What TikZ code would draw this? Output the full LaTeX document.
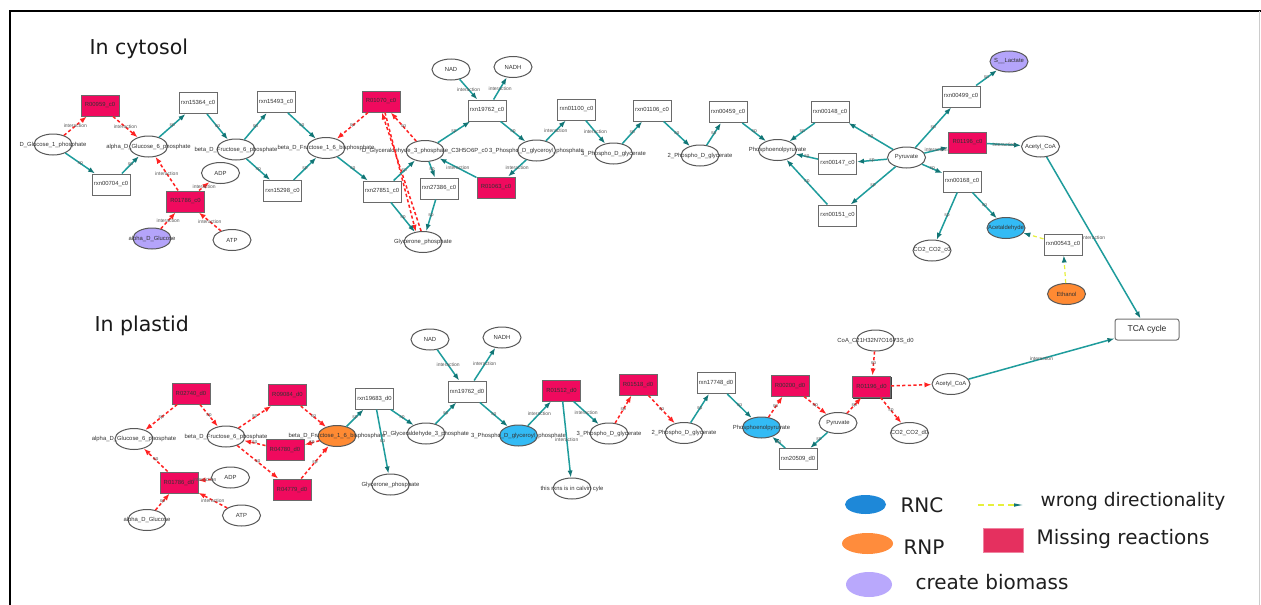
\documentclass[tikz,border=0pt]{standalone}
\usepackage{fontspec}
\setmainfont{DejaVu Sans}
\newfontfamily\lbfont{Liberation Sans}
\usetikzlibrary{arrows.meta,shapes.geometric}

\definecolor{tealline}{HTML}{1E9C9C}
\definecolor{tealhead}{HTML}{127575}
\definecolor{redline}{HTML}{FF2222}
\definecolor{yelline}{HTML}{E6F03C}
\definecolor{missfill}{HTML}{F00A5E}
\definecolor{rncfill}{HTML}{33BBF5}
\definecolor{rnpfill}{HTML}{FF8A33}
\definecolor{biofill}{HTML}{B4A4FA}
\definecolor{nodeedge}{HTML}{585858}
\definecolor{rxnedge}{HTML}{6A6A6A}
\definecolor{legrnc}{HTML}{1E88D8}
\definecolor{legrnp}{HTML}{FF8C3C}
\definecolor{legbio}{HTML}{B9A8FC}
\definecolor{legmiss}{HTML}{E5305F}

\tikzset{
  zerotext/.style={execute at begin node={\hbox to 0pt\bgroup\hss},
                   execute at end node={\hss\egroup}},
  met/.style={ellipse, draw=nodeedge, line width=1pt, fill=white,
              minimum width=38pt, minimum height=21pt, inner sep=0pt,
              font=\fontsize{5.9}{6}\selectfont\lbfont, text=black!80, zerotext},
  rxn/.style={rectangle, draw=rxnedge, line width=1pt, fill=white,
              minimum width=38pt, minimum height=21pt, inner sep=0pt,
              font=\fontsize{5.9}{6}\selectfont\lbfont, text=black!80, zerotext},
  miss/.style={rxn, fill=missfill},
  shadowed/.style={preaction={draw=black!75, line width=1pt,
                   transform canvas={xshift=1.3pt,yshift=-1.2pt}}},
  sp/.style={draw=tealline, line width=1.5pt,
             -{Latex[length=7pt,width=5.2pt,color=tealhead]}},
  rd/.style={draw=redline, line width=1.5pt, dash pattern=on 3.2pt off 2.4pt,
             -{Latex[length=7pt,width=5.2pt]}},
  yd/.style={draw=yelline, line width=1.2pt, dash pattern=on 4pt off 3pt,
             -{Latex[length=7pt,width=5.2pt,color=tealhead]}},
  el/.style={font=\fontsize{5}{5}\selectfont\lbfont, text=black!65,
             inner sep=0pt, midway},
  title/.style={font=\fontsize{20.5}{24}\selectfont, text=black!90, anchor=base west},
  legtext/.style={font=\fontsize{20}{24}\selectfont, text=black!88, anchor=base west},
}

\begin{document}
\begin{tikzpicture}[x=1pt, y=-1pt]
\useasboundingbox (0,0) rectangle (1261,605);
\fill[white] (0,0) rectangle (1261,605);

% frame
\draw[line width=2pt, black] (9.5,605) -- (9.5,10.5) -- (1261,10.5);
\draw[line width=0.8pt, black!20] (1259.6,11) -- (1259.6,605);

% titles
\node[title] (tcyt) at (86,54.5) {In cytosol};
\node[title] (tpla) at (91,331) {In plastid};

% ---------------- cytosol nodes ----------------
\node[miss] (r00959c) at (100,105.5) {R00959\_c0};
\node[met] (dg1p) at (53,144.5) {D\_Glucose\_1\_phosphate};
\node[met] (ag6pc) at (148.5,146.5) {alpha\_D\_Glucose\_6\_phosphate};
\node[rxn] (rxn15364) at (198,103) {rxn15364\_c0};
\node[met] (bf6pc) at (236,149.5) {beta\_D\_Fructose\_6\_phosphate};
\node[rxn] (rxn15493) at (276,102) {rxn15493\_c0};
\node[rxn] (rxn00704) at (111,184.5) {rxn00704\_c0};
\node[met] (adpc) at (220.5,173) {ADP};
\node[miss] (r01786c) at (185.5,201.5) {R01786\_c0};
\node[met, fill=biofill] (aglc) at (152,238.5) {alpha\_D\_Glucose};
\node[met] (atpc) at (232,240) {ATP};
\node[rxn] (rxn15298) at (282.5,191) {rxn15298\_c0};
\node[met] (bf16c) at (326,148) {beta\_D\_Fructose\_1\_6\_bisphosphate};
\node[miss] (r01070c) at (381,101.5) {R01070\_c0};
\node[rxn] (rxn27851) at (382,191.5) {rxn27851\_c0};
\node[rxn] (rxn27386) at (439,188.5) {rxn27386\_c0};
\node[met] (glyc) at (423,242) {Glycerone\_phosphate};
\node[met] (nadc) at (451,69.5) {NAD};
\node[met] (nadhc) at (513,67) {NADH};
\node[rxn] (rxn19762c) at (487,110.5) {rxn19762\_c0};
\node[miss] (r01063c) at (496,187.5) {R01063\_c0};
\node[met] (dg3pc) at (425,151) {D\_Glyceraldehyde\_3\_phosphate\_C3H5O6P\_c0};
\node[met] (pdgpc) at (536.5,150.5) {3\_Phospho\_D\_glyceroyl\_phosphate};
\node[rxn] (rxn01100) at (576.5,109.5) {rxn01100\_c0};
\node[met] (pdgc) at (613.5,153.5) {3\_Phospho\_D\_glycerate};
\node[rxn] (rxn01106) at (652,110.5) {rxn01106\_c0};
\node[met] (pdg2c) at (700,155.5) {2\_Phospho\_D\_glycerate};
\node[rxn] (rxn00459) at (728,112) {rxn00459\_c0};
\node[met] (pepc) at (777.5,150) {Phosphoenolpyruvate};
\node[rxn] (rxn00148) at (830,112) {rxn00148\_c0};
\node[rxn] (rxn00147) at (837.5,163.5) {rxn00147\_c0};
\node[rxn] (rxn00151) at (837.5,215.5) {rxn00151\_c0};
\node[met] (pyrc) at (906.5,157.5) {Pyruvate};
\node[rxn] (rxn00499) at (961,96.5) {rxn00499\_c0};
\node[miss] (r01196c) at (967.5,142.5) {R01196\_c0};
\node[rxn] (rxn00168) at (962,181.5) {rxn00168\_c0};
\node[met] (co2c) at (932,250.5) {CO2\_CO2\_c0};
\node[met, fill=biofill] (lac) at (1009,61.5) {S\_\_Lactate};
\node[met] (acoac) at (1040.5,146.5) {Acetyl\_CoA};
\node[met, fill=rncfill] (acald) at (1006,228) {Acetaldehyde};
\node[rxn] (rxn00543) at (1063,244.5) {rxn00543\_c0};
\node[met, fill=rnpfill] (etoh) at (1066.5,294) {Ethanol};
\node[rectangle, rounded corners=2.5pt, draw=black!55, line width=1pt, fill=white,
      minimum width=64pt, minimum height=21pt, inner sep=0pt,
      font=\fontsize{8.5}{9}\selectfont\lbfont, text=black!85] (tca) at (1147,329.5) {TCA cycle};

% ---------------- cytosol connectors ----------------
\draw[rd] (dg1p) -- node[el]{interaction} (r00959c);
\draw[rd] (r00959c) -- node[el]{interaction} (ag6pc);
\draw[sp] (dg1p) -- node[el]{sp} (rxn00704);
\draw[sp] (rxn00704) -- node[el]{sp} (ag6pc);
\draw[sp] (ag6pc) -- node[el]{sp} (rxn15364);
\draw[sp] (rxn15364) -- node[el]{sp} (bf6pc);
\draw[sp] (bf6pc) -- node[el]{sp} (rxn15493);
\draw[sp] (rxn15493) -- node[el]{sp} (bf16c);
\draw[sp] (bf6pc) -- node[el]{sp} (rxn15298);
\draw[sp] (rxn15298) -- node[el]{sp} (bf16c);
\draw[rd] (r01786c) -- node[el]{interaction} (ag6pc);
\draw[rd] (r01786c) -- node[el]{interaction} (adpc);
\draw[rd] (aglc) -- node[el]{interaction} (r01786c);
\draw[rd] (atpc) -- node[el]{interaction} (r01786c);
\draw[rd] (r01070c) -- node[el]{sp} (bf16c);
\draw[rd] (dg3pc) -- node[el]{sp} (r01070c);
\draw[rd] (glyc.100) -- (r01070c.-85);
\draw[rd] (r01070c.-70) -- (glyc.125);
\draw[sp] (bf16c) -- node[el]{sp} (rxn27851);
\draw[sp] (rxn27851) -- node[el]{sp} (dg3pc);
\draw[sp] (rxn27851) -- node[el]{sp} (glyc);
\draw[sp] (dg3pc) -- node[el]{sp} (rxn27386);
\draw[sp] (rxn27386) -- node[el]{sp} (glyc);
\draw[sp] (dg3pc) -- node[el]{sp} (rxn19762c);
\draw[sp] (nadc) -- node[el]{interaction} (rxn19762c);
\draw[sp] (rxn19762c) -- node[el]{interaction} (nadhc);
\draw[sp] (rxn19762c) -- node[el]{sp} (pdgpc);
\draw[sp] (r01063c) -- node[el]{interaction} (dg3pc);
\draw[sp] (pdgpc) -- node[el]{interaction} (r01063c);
\draw[sp] (pdgpc) -- node[el]{interaction} (rxn01100);
\draw[sp] (rxn01100) -- node[el]{interaction} (pdgc);
\draw[sp] (pdgc) -- node[el]{sp} (rxn01106);
\draw[sp] (rxn01106) -- node[el]{sp} (pdg2c);
\draw[sp] (pdg2c) -- node[el]{sp} (rxn00459);
\draw[sp] (rxn00459) -- node[el]{sp} (pepc);
\draw[sp] (rxn00148) -- node[el]{sp} (pepc);
\draw[sp] (pyrc) -- node[el]{sp} (rxn00148);
\draw[sp] (pyrc) -- node[el]{sp} (rxn00147);
\draw[sp] (rxn00147) -- node[el]{sp} (pepc);
\draw[sp] (pyrc) -- node[el]{sp} (rxn00151);
\draw[sp] (rxn00151) -- node[el]{sp} (pepc);
\draw[sp] (pyrc) -- node[el]{sp} (rxn00499);
\draw[sp] (rxn00499) -- node[el]{sp} (lac);
\draw[sp] (pyrc) -- node[el]{interaction} (r01196c);
\draw[sp] (pyrc) -- node[el]{sp} (rxn00168);
\draw[sp] (rxn00168) -- node[el]{sp} (co2c);
\draw[sp] (rxn00168) -- node[el]{sp} (acald);
\draw[sp] (r01196c) -- node[el]{interaction} (acoac);
\draw[yd] (rxn00543) -- (acald);
\draw[yd] (etoh) -- (rxn00543);
\draw[sp] (acoac) -- node[el]{interaction} (tca);

% ---------------- plastid nodes ----------------
\node[miss] (r02740) at (191,393.5) {R02740\_d0};
\node[miss] (r09084) at (287.5,395) {R09084\_d0};
\node[met] (ag6pd) at (134,439) {alpha\_D\_Glucose\_6\_phosphate};
\node[met] (bf6pd) at (226,436.5) {beta\_D\_Fructose\_6\_phosphate};
\node[miss] (r04780) at (285,450) {R04780\_d0};
\node[miss] (r04779) at (292,489.5) {R04779\_d0};
\node[miss] (r01786d) at (179,482.5) {R01786\_d0};
\node[met] (adpd) at (230.5,477.5) {ADP};
\node[met] (atpd) at (241.5,515.5) {ATP};
\node[met] (agld) at (147,520) {alpha\_D\_Glucose};
\node[met, fill=rnpfill] (bf16d) at (337,436) {beta\_D\_Fructose\_1\_6\_bisphosphate};
\node[met] (nadd) at (430,339.5) {NAD};
\node[met] (nadhd) at (502,337.5) {NADH};
\node[rxn] (rxn19683) at (374.5,398.5) {rxn19683\_d0};
\node[rxn] (rxn19762d) at (467,391.5) {rxn19762\_d0};
\node[met] (dg3pd) at (426,433.5) {D\_Glyceraldehyde\_3\_phosphate};
\node[met] (glyd) at (390.5,484.5) {Glycerone\_phosphate};
\node[met, fill=rncfill] (pdgpd) at (518.5,435.5) {3\_Phospho\_D\_glyceroyl\_phosphate};
\node[miss] (r01512) at (561.5,390.5) {R01512\_d0};
\node[met] (calvin) at (572,488.5) {this rxns is in calvin cyle};
\node[miss] (r01518) at (638,384.5) {R01518\_d0};
\node[met] (pdgd) at (609,433.5) {3\_Phospho\_D\_glycerate};
\node[met] (pdg2d) at (684,433) {2\_Phospho\_D\_glycerate};
\node[rxn] (rxn17748) at (716,383) {rxn17748\_d0};
\node[met, fill=rncfill] (pepd) at (761.5,427.5) {Phosphoenolpyruvate};
\node[miss] (r00200) at (790,385.5) {R00200\_d0};
\node[met] (pyrd) at (838,423) {Pyruvate};
\node[rxn] (rxn20509) at (798,459) {rxn20509\_d0};
\node[miss, shadowed] (r01196d) at (871.5,386.5) {R01196\_d0};
\node[met] (coa) at (875.5,340.5) {CoA\_C21H32N7O16P3S\_d0};
\node[met] (co2d) at (909.5,433) {CO2\_CO2\_d0};
\node[met] (acoad) at (951,384) {Acetyl\_CoA};

% ---------------- plastid connectors ----------------
\draw[rd] (r02740) -- node[el]{sp} (ag6pd);
\draw[rd] (r02740) -- node[el]{sp} (bf6pd);
\draw[rd] (bf6pd) -- node[el]{sp} (r09084);
\draw[rd] (r09084) -- node[el]{sp} (bf16d);
\draw[rd] (bf16d) -- node[el]{sp} (r04780);
\draw[rd] (r04780) -- node[el]{sp} (bf6pd);
\draw[rd] (bf6pd) -- node[el]{sp} (r04779);
\draw[rd] (r04779) -- node[el]{sp} (bf16d);
\draw[rd] (r01786d) -- node[el]{sp} (ag6pd);
\draw[rd] (adpd) -- node[el]{interaction} (r01786d);
\draw[rd] (atpd) -- node[el]{interaction} (r01786d);
\draw[rd] (agld) -- node[el]{sp} (r01786d);
\draw[sp] (bf16d) -- node[el]{sp} (rxn19683);
\draw[sp] (rxn19683) -- node[el]{sp} (dg3pd);
\draw[sp] (rxn19683) -- node[el]{sp} (glyd);
\draw[sp] (dg3pd) -- node[el]{sp} (rxn19762d);
\draw[sp] (nadd) -- node[el]{interaction} (rxn19762d);
\draw[sp] (rxn19762d) -- node[el]{interaction} (nadhd);
\draw[sp] (rxn19762d) -- node[el]{sp} (pdgpd);
\draw[sp] (pdgpd) -- node[el]{interaction} (r01512);
\draw[sp] (r01512) -- node[el]{interaction} (pdgd);
\draw[sp] (r01512) -- node[el]{interaction} (calvin);
\draw[rd] (pdgd) -- node[el]{sp} (r01518);
\draw[rd] (r01518) -- node[el]{sp} (pdg2d);
\draw[sp] (pdg2d) -- node[el]{sp} (rxn17748);
\draw[sp] (rxn17748) -- node[el]{sp} (pepd);
\draw[rd] (pepd) -- node[el]{sp} (r00200);
\draw[rd] (r00200) -- node[el]{sp} (pyrd);
\draw[sp] (pyrd) -- node[el]{sp} (rxn20509);
\draw[sp] (rxn20509) -- node[el]{sp} (pepd);
\draw[rd] (pyrd) -- node[el]{sp} (r01196d);
\draw[rd] (coa) -- node[el]{sp} (r01196d);
\draw[rd] (r01196d) -- (acoad);
\draw[rd] (r01196d) -- node[el]{sp} (co2d);
\draw[sp] (acoad) -- node[el]{interaction} (tca);

% ---------------- legend ----------------
\node[ellipse, fill=legrnc, minimum width=41pt, minimum height=19pt, inner sep=0pt] (kRNC) at (865.5,504.5) {};
\node[legtext] (tRNC) at (897,512) {RNC};
\node[ellipse, fill=legrnp, minimum width=51pt, minimum height=21pt, inner sep=0pt] (kRNP) at (867.5,543.5) {};
\node[legtext] (tRNP) at (900,554) {RNP};
\node[ellipse, fill=legbio, minimum width=46pt, minimum height=25pt, inner sep=0pt] (kBIO) at (869,584.5) {};
\node[legtext] (tBIO) at (912,589) {create biomass};
\coordinate (kWa) at (978,505);
\coordinate (kWb) at (1025,505);
\draw[draw=yelline, line width=1.3pt, dash pattern=on 6pt off 4pt,
      -{Latex[length=11pt,width=3.5pt,color=tealhead]}] (kWa) -- (kWb);
\node[legtext, font=\fontsize{18.6}{22}\selectfont] (tWR) at (1037,506) {wrong directionality};
\node[rectangle, fill=legmiss, draw=legmiss!60!white, line width=0.6pt,
      minimum width=40pt, minimum height=24pt, inner sep=0pt] (kMISS) at (1003,540) {};
\node[legtext] (tMISS) at (1033,544) {Missing reactions};
\end{tikzpicture}
\end{document}
